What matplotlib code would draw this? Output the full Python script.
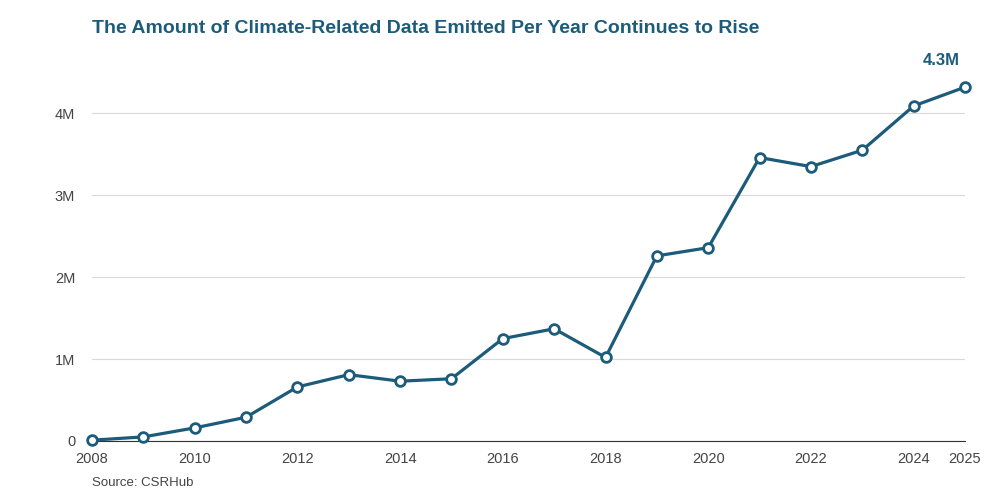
import matplotlib
matplotlib.use("Agg")
import matplotlib.pyplot as plt

years = list(range(2008, 2026))
values = [0.01, 0.05, 0.16, 0.29, 0.66, 0.81, 0.73, 0.76, 1.25, 1.37, 1.02,
          2.26, 2.36, 3.46, 3.35, 3.55, 4.09, 4.32]
xticks = [2008, 2010, 2012, 2014, 2016, 2018, 2020, 2022, 2024, 2025]
yticks = [0, 1, 2, 3, 4]
ylabels = ["0", "1M", "2M", "3M", "4M"]

plt.rcParams['font.family'] = ['Liberation Sans', 'DejaVu Sans']
c = "#1c5c7a"
fig = plt.figure(figsize=(10, 5), dpi=100)
ax = fig.add_axes([0.092, 0.118, 0.873, 0.77])
ax.plot(years, values, color=c, lw=2.3, marker='o', ms=7, mfc='white', mec=c, mew=2, zorder=3, clip_on=False)
ax.set_xlim(2008, 2025)
ax.set_ylim(0, 4.7)
ax.set_xticks(xticks)
ax.set_yticks(yticks)
ax.set_yticklabels(ylabels)
ax.grid(axis='y', color='#d9d9d9', lw=0.8)
for s in ['top', 'right', 'left']:
    ax.spines[s].set_visible(False)
ax.spines['bottom'].set_color('#333333')
ax.tick_params(axis='both', length=0, labelsize=10.5, colors='#444444')
ax.tick_params(axis='x', pad=8)
ax.tick_params(axis='y', pad=12)
ax.annotate("4.3M", (2025, values[-1]), xytext=(-4, 14), textcoords='offset points',
            ha='right', va='bottom', fontsize=12, fontweight='bold', color=c)
fig.text(0.092, 0.943, "The Amount of Climate-Related Data Emitted Per Year Continues to Rise",
         fontsize=14, fontweight='bold', color=c, ha='left', va='center')
fig.text(0.092, 0.035, "Source: CSRHub", fontsize=9.5, color='#444444', ha='left', va='center')
fig.savefig("out.png", dpi=100, facecolor='white')
